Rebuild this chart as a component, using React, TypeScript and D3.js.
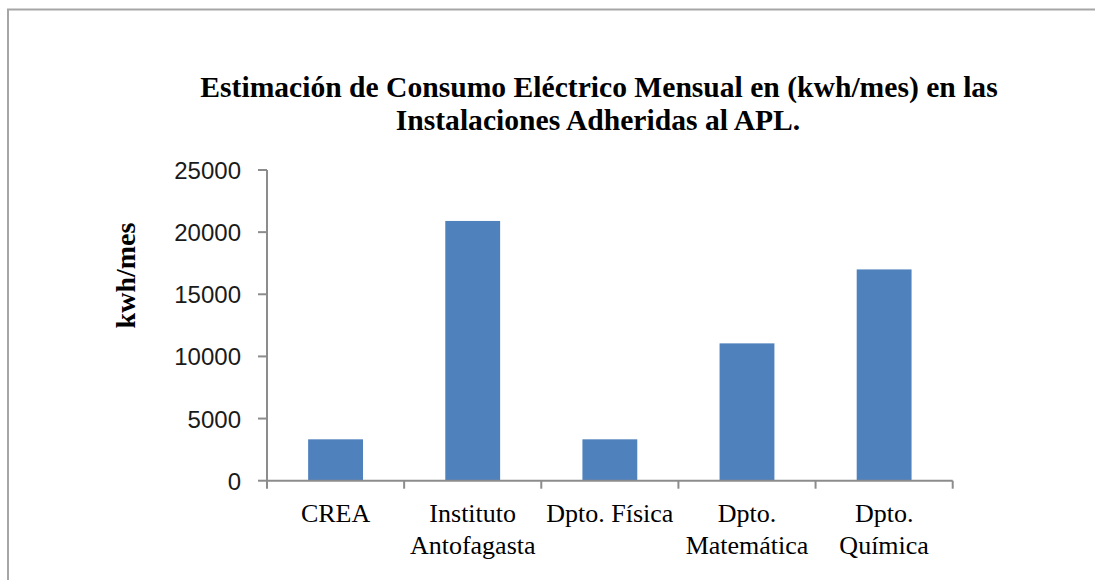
import React from "react";
import * as d3 from "d3";

const categories = ["CREA", "Instituto Antofagasta", "Dpto. Física", "Dpto. Matemática", "Dpto. Química"];
const labelLines = [["CREA"], ["Instituto", "Antofagasta"], ["Dpto. Física"], ["Dpto.", "Matemática"], ["Dpto.", "Química"]];
const values = [3330, 20900, 3330, 11050, 17000];
const yTicks = [0, 5000, 10000, 15000, 20000, 25000];
const titleLines = ["Estimación de Consumo Eléctrico Mensual en (kwh/mes) en las", "Instalaciones Adheridas al APL."];
const yTitle = "kwh/mes";

const W = 1095;
const H = 580;
const plotLeft = 267;
const plotRight = 952.7;
const plotTop = 170;
const plotBottom = 480.7;
const serif = "'Liberation Serif', 'Times New Roman', serif";
const sans = "'Liberation Sans', Arial, sans-serif";
const axisColor = "#8c8c8c";

export default function App() {
  const x = d3.scaleBand<string>().domain(categories).range([plotLeft, plotRight]).paddingInner(0.6).paddingOuter(0.3);
  const y = d3.scaleLinear().domain([0, 25000]).range([plotBottom, plotTop]);
  const step = x.step();
  const gap = (step - x.bandwidth()) / 2;
  const boundaries = categories.map((c) => (x(c) as number) - gap).concat([(x(categories[categories.length - 1]) as number) + x.bandwidth() + gap]);

  return (
    <svg width={W} height={H} style={{ position: "absolute", left: 0, top: 0, display: "block", background: "#fff" }}>
      <rect x={0} y={0} width={W} height={H} fill="#fff" />
      <rect x={8} y={9.5} width={W + 20} height={H + 20} fill="none" stroke="#a6a6a6" strokeWidth={2} />
      <g fontFamily={serif} fontWeight="bold" fontSize={29.6} textAnchor="middle" fill="#000">
        <text x={599} y={97}>{titleLines[0]}</text>
        <text x={598} y={130}>{titleLines[1]}</text>
      </g>
      <text transform="translate(135,275.5) rotate(-90)" textAnchor="middle" fontFamily={serif} fontWeight="bold" fontSize={28} fill="#000">
        {yTitle}
      </text>
      {categories.map((c, i) => (
        <rect key={c} x={x(c)} y={y(values[i])} width={x.bandwidth()} height={plotBottom - y(values[i])} fill="#4f81bd" />
      ))}
      <g stroke={axisColor} strokeWidth={2} fill="none">
        <line x1={plotLeft} x2={plotLeft} y1={plotTop} y2={plotBottom} />
        {yTicks.map((t) => (
          <line key={t} x1={plotLeft - 9} x2={plotLeft} y1={y(t)} y2={y(t)} />
        ))}
        <line x1={plotLeft} x2={plotRight} y1={plotBottom} y2={plotBottom} />
        {boundaries.map((b, i) => (
          <line key={i} x1={b} x2={b} y1={plotBottom} y2={plotBottom + 8} />
        ))}
      </g>
      <g fontFamily={sans} fontSize={24} textAnchor="end" fill="#1a1a1a">
        {yTicks.map((t) => (
          <text key={t} x={241} y={y(t) + 9}>{t}</text>
        ))}
      </g>
      <g fontFamily={serif} fontSize={26} textAnchor="middle" fill="#000">
        {categories.map((c, i) => (
          <text key={c} x={(x(c) as number) + x.bandwidth() / 2}>
            {labelLines[i].map((l, j) => (
              <tspan key={j} x={(x(c) as number) + x.bandwidth() / 2} y={521.7 + j * 32.5}>{l}</tspan>
            ))}
          </text>
        ))}
      </g>
    </svg>
  );
}
